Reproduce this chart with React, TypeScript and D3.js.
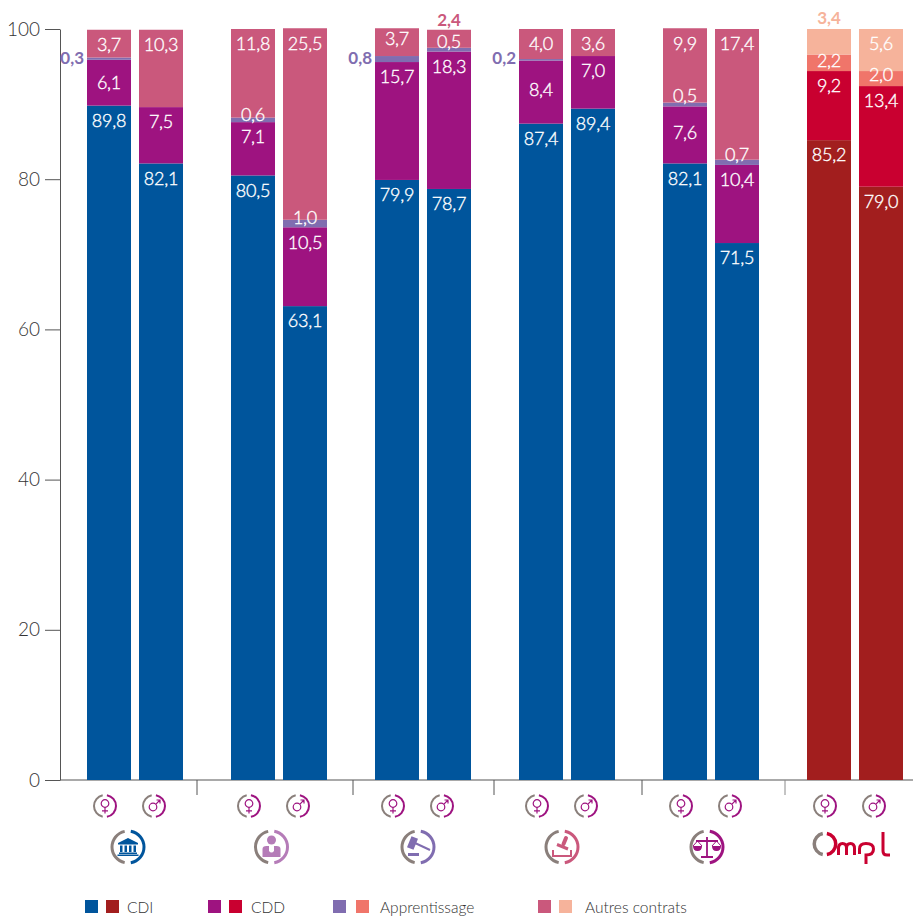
import React, { useEffect, useRef } from "react";
import * as d3 from "d3";

// one entry per bar: femmes, hommes for each group, left to right
const groups = ["Fonction publique", "Santé", "Justice", "Notariat", "Droit", "OMPL"];
const sexes = ["F", "H"];
const cdi = [89.8, 82.1, 80.5, 63.1, 79.9, 78.7, 87.4, 89.4, 82.1, 71.5, 85.2, 79.0];
const cdd = [6.1, 7.5, 7.1, 10.5, 15.7, 18.3, 8.4, 7.0, 7.6, 10.4, 9.2, 13.4];
const apprentissage = [0.3, 0, 0.6, 1.0, 0.8, 0.5, 0.2, 0, 0.5, 0.7, 2.2, 2.0];
const autres = [3.7, 10.3, 11.8, 25.5, 3.7, 2.4, 4.0, 3.6, 9.9, 17.4, 3.4, 5.6];

const yTicks = [0, 20, 40, 60, 80, 100];
const legendLabels = ["CDI", "CDD", "Apprentissage", "Autres contrats"];

const keys = ["cdi", "cdd", "apprentissage", "autres"];
const palette = ["#00559c", "#9e1380", "#806db0", "#ca587c"];
const paletteOmpl = ["#a21e1e", "#c90030", "#f0756a", "#f6b39b"];
const GREY = "#8a7f7b";
const FONT = "Lato, 'Open Sans', sans-serif";

const App = () => {
  const svgRef = useRef<SVGSVGElement>(null);

  useEffect(() => {
    const width = 913;
    const height = 916;
    const svg = d3.select(svgRef.current);
    svg.selectAll("*").remove();
    svg.attr("width", width).attr("height", height).attr("viewBox", `0 0 ${width} ${height}`);

    const y = d3.scaleLinear().domain([0, 100]).range([780, 29]);
    const x0 = d3.scaleBand().domain(groups).range([63, 927]).paddingInner(1 / 3).paddingOuter(1 / 6);
    const x1 = d3.scaleBand().domain(sexes).range([0, x0.bandwidth()]).paddingInner(2 - 96 / 52);

    const rows = cdi.map((_, i) => ({
      group: groups[Math.floor(i / 2)],
      sex: sexes[i % 2],
      cdi: cdi[i],
      cdd: cdd[i],
      apprentissage: apprentissage[i],
      autres: autres[i],
    }));
    const stacked = d3.stack<any>().keys(keys)(rows);
    const barX = (i: number) => x0(rows[i].group)! + x1(rows[i].sex)!;
    const fr = d3.format(".1f");
    const label = (v: number) => fr(v).replace(".", ",");

    // --- Axes ---
    const axis = svg
      .append("g")
      .attr("transform", "translate(60,0)")
      .call(d3.axisLeft(y).tickValues(yTicks).tickSize(15).tickPadding(5).tickSizeOuter(0));
    axis.selectAll("line").attr("stroke", "#555");
    axis.select(".domain").attr("stroke", "#555");
    axis
      .selectAll("text")
      .attr("font-family", FONT)
      .attr("font-weight", 300)
      .attr("font-size", 19)
      .attr("fill", "#333");

    svg.append("line").attr("x1", 60).attr("x2", 913).attr("y1", y(0)).attr("y2", y(0)).attr("stroke", "#555");

    // separators under the axis
    [197, 353, 494, 642, 785].forEach((x, i) => {
      svg
        .append("line")
        .attr("x1", x)
        .attr("x2", x)
        .attr("y1", y(0))
        .attr("y2", 795)
        .attr("stroke", i === 4 ? "#8a8a8a" : "#555");
    });

    // --- Bars ---
    stacked.forEach((layer, k) => {
      layer.forEach((d, i) => {
        if (d[1] - d[0] <= 0) return;
        svg
          .append("rect")
          .attr("x", barX(i))
          .attr("y", y(d[1]))
          .attr("width", x1.bandwidth())
          .attr("height", y(d[0]) - y(d[1]))
          .attr("fill", (i >= 10 ? paletteOmpl : palette)[k]);
      });
    });

    // --- Value labels ---
    // most labels sit 15px under the top of their segment, these don't
    const nudge: Record<string, number> = {
      "cdd-0": 23,
      "cdd-6": 29,
      "cdd-8": 26,
      "autres-4": 10,
      "apprentissage-2": -3,
      "apprentissage-3": -2,
      "apprentissage-5": -6,
      "apprentissage-8": -7,
      "apprentissage-9": -5,
      "apprentissage-10": 6,
      "apprentissage-11": 4,
    };
    // too thin to hold a label: written next to the bar, in bold
    const besideBar = ["apprentissage-0", "apprentissage-4", "apprentissage-6"];
    const aboveBar = ["autres-5", "autres-10"];

    stacked.forEach((layer, k) => {
      layer.forEach((d, i) => {
        const v = d[1] - d[0];
        if (v <= 0) return;
        const id = `${keys[k]}-${i}`;
        const color = (i >= 10 ? paletteOmpl : palette)[k];
        const text = svg
          .append("text")
          .attr("font-family", FONT)
          .attr("font-size", 18)
          .attr("dy", "0.35em")
          .text(label(v));
        if (besideBar.includes(id)) {
          text
            .attr("x", barX(i) - 3)
            .attr("y", 58)
            .attr("text-anchor", "end")
            .attr("font-size", 17)
            .attr("font-weight", 700)
            .attr("fill", color);
        } else if (aboveBar.includes(id)) {
          text
            .attr("x", barX(i) + x1.bandwidth() / 2)
            .attr("y", i >= 10 ? 18 : 20)
            .attr("text-anchor", "middle")
            .attr("font-size", 17)
            .attr("font-weight", 700)
            .attr("fill", color);
        } else {
          // light weight plus a hair of stroke, closer to the original's book weight
          text
            .attr("x", barX(i) + x1.bandwidth() / 2)
            .attr("y", y(d[1]) + (nudge[id] ?? 15))
            .attr("text-anchor", "middle")
            .attr("font-weight", 300)
            .attr("letter-spacing", -0.2)
            .attr("stroke", "#fff")
            .attr("stroke-width", 0.35)
            .attr("fill", "#fff");
        }
      });
    });

    // --- Icons ---
    const deg = Math.PI / 180;
    const ring = (g: any, r: number, w: number, color: string) => {
      const arc = d3.arc().innerRadius(r - w).outerRadius(r);
      g.append("path")
        .attr("d", arc({ startAngle: 192 * deg, endAngle: 348 * deg } as any))
        .attr("fill", GREY);
      g.append("path")
        .attr("d", arc({ startAngle: 10 * deg, endAngle: 170 * deg } as any))
        .attr("fill", color);
    };

    const magenta = palette[1];
    groups.forEach((g) => {
      const bandLeft = x0(g)!;
      sexes.forEach((s) => {
        const cx = bandLeft + x1(s)! + x1.bandwidth() / 2 + (s === "F" ? -4 : -7);
        const icon = svg.append("g").attr("transform", `translate(${cx},806)`);
        ring(icon, 12, 2, magenta);
        const glyph = icon
          .append("g")
          .attr("fill", "none")
          .attr("stroke", magenta)
          .attr("stroke-width", 1.2);
        if (s === "F") {
          glyph.append("circle").attr("cy", -2.5).attr("r", 3.8);
          glyph.append("path").attr("d", "M0 1.3V7.5M-3 4.8H3");
        } else {
          glyph.append("circle").attr("cx", -1).attr("cy", 1).attr("r", 3.8);
          glyph.append("path").attr("d", "M1.7 -1.7L6 -6M2.5 -6H6V-2.5");
        }
      });
    });

    const bigIcons = [
      { x: 128, color: palette[0] },
      { x: 271.5, color: "#b57cb8" },
      { x: 418, color: palette[2] },
      { x: 562, color: palette[3] },
      { x: 707, color: palette[1] },
    ];
    bigIcons.forEach((b, i) => {
      const g = svg.append("g").attr("transform", `translate(${b.x},847)`);
      ring(g, 17.5, 3, b.color);
      const c = b.color;
      if (i === 0) {
        g.append("path").attr("fill", c).attr("d", "M0 -9L10 -4V-2.5H-10V-4Z");
        g.append("path")
          .attr("fill", c)
          .attr("d", "M-8 -1.5H-5.5V5H-8ZM-3.5 -1.5H-1V5H-3.5ZM1 -1.5H3.5V5H1ZM5.5 -1.5H8V5H5.5ZM-9 5.5H9V7H-9ZM-10.5 7.5H10.5V9H-10.5Z");
      } else if (i === 1) {
        g.append("circle").attr("cy", -7).attr("r", 4.5).attr("fill", c);
        g.append("path")
          .attr("fill", c)
          .attr("d", "M-9 10V2Q-9 -1 -5 -1H-2.5V4Q0 7 2.5 4V-1H5Q9 -1 9 2V10Z");
      } else if (i === 2) {
        g.append("rect").attr("x", -9).attr("y", -10).attr("width", 7).attr("height", 12).attr("fill", c).attr("transform", "rotate(22 -5.5 -4)");
        g.append("path").attr("d", "M-3 -4L12 3").attr("stroke", c).attr("stroke-width", 2);
        g.append("rect").attr("x", -10).attr("y", 6).attr("width", 11).attr("height", 3).attr("fill", c);
      } else if (i === 3) {
        g.append("path").attr("d", "M4 -9L1.5 -3").attr("stroke", c).attr("stroke-width", 4).attr("stroke-linecap", "round");
        g.append("path").attr("d", "M-5 -2.5L6 2").attr("stroke", c).attr("stroke-width", 3);
        g.append("path").attr("d", "M-9 3V9H9V3").attr("fill", "none").attr("stroke", c).attr("stroke-width", 2);
      } else {
        g.append("path")
          .attr("d", "M0 -10V9M-6 10H6M-11 -6H11")
          .attr("fill", "none")
          .attr("stroke", c)
          .attr("stroke-width", 1.8);
        g.append("path").attr("fill", c).attr("d", "M-14 -1H-5Q-5 4 -9.5 4Q-14 4 -14 -1ZM5 -1H14Q14 4 9.5 4Q5 4 5 -1Z");
        g.append("path").attr("fill", "none").attr("stroke", c).attr("d", "M-9.5 -6L-14 -1M-9.5 -6L-5 -1M9.5 -6L14 -1M9.5 -6L5 -1");
      }
    });

    // OMPL logo
    const logo = svg.append("g");
    const logoRing = logo.append("g").attr("transform", "translate(825,844)");
    ring(logoRing, 12.5, 3.5, paletteOmpl[1]);
    logo
      .append("path")
      .attr("fill", "none")
      .attr("stroke", paletteOmpl[1])
      .attr("stroke-width", 3)
      .attr(
        "d",
        "M838.5 855V848.5Q838.5 843.5 842.5 843.5Q846.5 843.5 846.5 848V855M846.5 848Q846.5 843.5 850.5 843.5Q854.5 843.5 854.5 848.5V855" +
          "M859.5 854V849Q859.5 843.5 866 843.5Q873.5 843.5 873.5 849Q873.5 855 866 855V864" +
          "M883 832V851Q883 855 887 855H890"
      );

    // --- Legend ---
    const legendX = [
      { a: 85, b: 106, t: 127 },
      { a: 208, b: 229, t: 251 },
      { a: 333, b: 356, t: 380 },
      { a: 538, b: 559, t: 585 },
    ];
    legendLabels.forEach((name, i) => {
      const l = legendX[i];
      svg.append("rect").attr("x", l.a).attr("y", 900).attr("width", 13).attr("height", 13).attr("fill", palette[i]);
      svg.append("rect").attr("x", l.b).attr("y", 900).attr("width", 13).attr("height", 13).attr("fill", paletteOmpl[i]);
      svg
        .append("text")
        .attr("x", l.t)
        .attr("y", 913)
        .attr("font-family", FONT)
        .attr("font-weight", 300)
        .attr("font-size", 15.5)
        .attr("fill", "#333")
        .text(name);
    });
  }, []);

  return <svg ref={svgRef} style={{ position: "absolute", left: 0, top: 0, background: "#fff" }} />;
};

export default App;
